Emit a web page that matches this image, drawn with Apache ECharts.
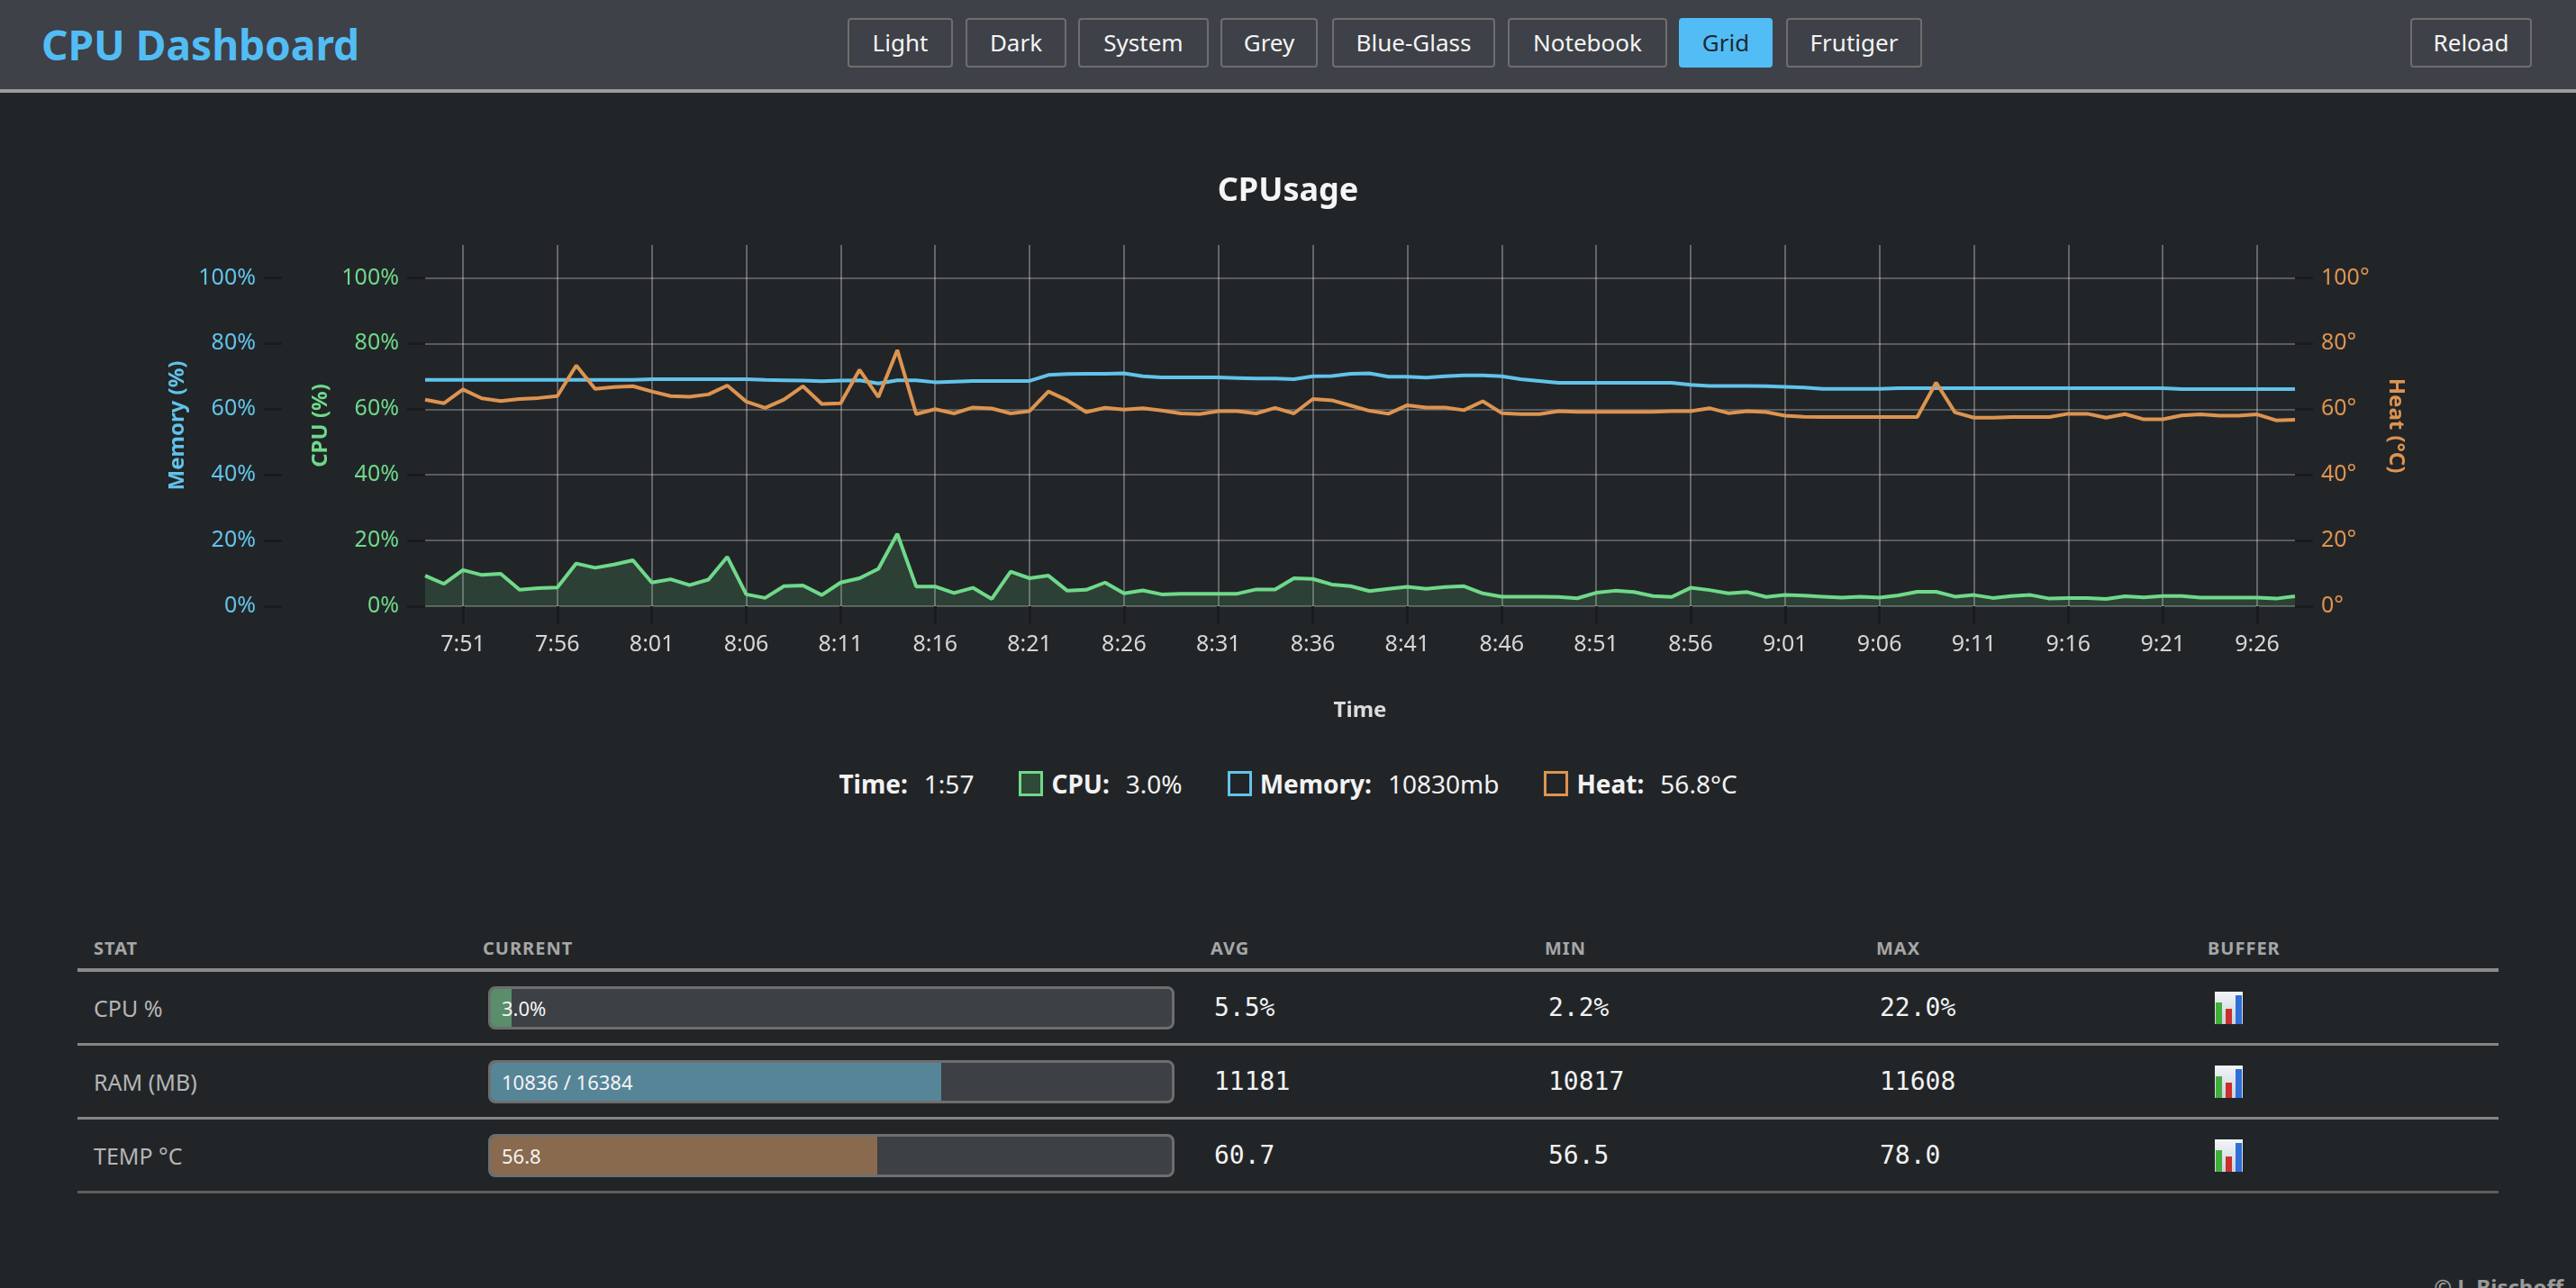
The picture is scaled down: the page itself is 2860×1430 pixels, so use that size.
<!DOCTYPE html>
<html>
<head>
<meta charset="utf-8">
<title>CPU Dashboard</title>
<script src="https://cdn.jsdelivr.net/npm/echarts@6/dist/echarts.min.js"></script>
<style>
  html, body { margin: 0; padding: 0; }
  body {
    width: 2860px; height: 1430px; overflow: hidden; position: relative;
    background: #222528; color: #f2f2f2;
    font-family: "Noto Sans", "Open Sans", sans-serif;
  }
  .header {
    position: absolute; left: 0; top: 0; width: 2860px; height: 99px;
    background: #3e4147; border-bottom: 4px solid #9c9c9c;
  }
  .header h1 {
    position: absolute; left: 46px; top: 22px; margin: 0;
    font-size: 46px; line-height: 54px; font-weight: 700; color: #52bdf5;
  }
  .btn {
    position: absolute; top: 20px; height: 55px; box-sizing: border-box;
    border: 2px solid #6e6e6e; border-radius: 4px; background: #3e4147;
    color: #f4f4f4; font-size: 26px; line-height: 51px; text-align: center;
  }
  .btn.active { background: #52bdf5; border-color: #52bdf5; color: #1d2a33; }
  #chart { position: absolute; left: 0; top: 106px; width: 2860px; height: 700px; }
  .legend {
    position: absolute; left: 0; top: 848px; width: 2860px; height: 44px;
    display: flex; justify-content: center; align-items: center; font-size: 28px;
  }
  .legend b { font-weight: 700; margin-right: 18px; }
  .legend .val { margin-right: 50px; }
  .legend .box { width: 27px; height: 28px; box-sizing: border-box; border: 3px solid; margin-right: 9px; }
  .stats { position: absolute; left: 86px; top: 1030px; width: 2688px; }
  .row { position: relative; height: 79px; border-bottom: 3px solid #858585; }
  .row.head { height: 45px; border-bottom: 4px solid #8a8a8a; }
  .row.last { border-bottom-color: #5c5c5c; }
  .cell { position: absolute; top: 0; height: 100%; display: flex; align-items: center; }
  .head .cell { font-size: 20px; font-weight: 700; color: #a6a6a6; letter-spacing: 1px; }
  .name { font-size: 25px; color: #b5b5b5; }
  .num { font-family: "DejaVu Sans Mono", monospace; font-size: 28px; color: #f2f2f2; }
  .bar {
    position: relative; width: 762px; height: 48px; box-sizing: border-box;
    border: 3px solid #6e6e6e; border-radius: 8px; background: #3d4044; overflow: hidden;
  }
  .bar .fill { position: absolute; left: 0; top: 0; bottom: 0; }
  .bar span { position: absolute; left: 12px; top: 0; line-height: 42px; font-size: 22px; color: #f4f4f4; }
  .icon {
    position: relative; width: 31px; height: 36px;
    background: linear-gradient(#f2f5f8, #c8d2dc);
  }
  .icon i { position: absolute; bottom: 0; width: 7px; }
  .foot {
    position: absolute; right: 14px; top: 1412px; font-size: 24px; font-weight: 700; color: #9a9a9a;
  }
</style>
</head>
<body>

<div class="header">
  <h1>CPU Dashboard</h1>
  <div class="btn" style="left:941px;width:117px">Light</div>
  <div class="btn" style="left:1072px;width:112px">Dark</div>
  <div class="btn" style="left:1197px;width:145px">System</div>
  <div class="btn" style="left:1355px;width:108px">Grey</div>
  <div class="btn" style="left:1479px;width:181px">Blue-Glass</div>
  <div class="btn" style="left:1674px;width:177px">Notebook</div>
  <div class="btn active" style="left:1864px;width:104px">Grid</div>
  <div class="btn" style="left:1983px;width:151px">Frutiger</div>
  <div class="btn" style="left:2676px;width:135px">Reload</div>
</div>

<div id="chart"></div>

<div class="legend" id="legend"></div>

<div class="stats" id="stats"></div>

<div class="foot">© J. Bischoff</div>

<script>
// colours
var cpuColor = '#6fd98a'
var memColor = '#62c3ea'
var heatColor = '#dd9450'

// minutes 7:49 .. 9:28, one point each
var startHour = 7
var startMin = 49
var pointCount = 100

// CPU usage (%)
var cpuData = [
  9.3, 6.8, 11.0, 9.5, 9.9, 5.0, 5.5, 5.7, 13.0, 11.7,
  12.7, 14.0, 7.2, 8.2, 6.4, 8.1, 15.0, 3.6, 2.5, 6.1,
  6.3, 3.4, 7.2, 8.5, 11.4, 22.0, 6.0, 6.0, 4.0, 5.6,
  2.2, 10.5, 8.5, 9.3, 4.7, 5.0, 7.2, 3.9, 4.8, 3.6,
  3.8, 3.8, 3.8, 3.8, 5.1, 5.1, 8.5, 8.3, 6.6, 6.1,
  4.6, 5.3, 5.9, 5.3, 5.8, 6.1, 3.9, 2.9, 2.9, 2.9,
  2.8, 2.4, 4.1, 4.7, 4.3, 3.1, 2.8, 5.6, 4.9, 3.9,
  4.3, 2.8, 3.4, 3.2, 2.9, 2.6, 2.9, 2.6, 3.3, 4.4,
  4.4, 2.9, 3.4, 2.5, 3.1, 3.4, 2.3, 2.5, 2.5, 2.2,
  3.0, 2.7, 3.1, 3.1, 2.6, 2.6, 2.6, 2.6, 2.3, 3.0
]

// memory usage (% of 16384mb)
var memData = [
  68.9, 68.9, 68.9, 68.9, 68.9, 68.9, 68.9, 68.9, 68.9, 68.9,
  68.9, 68.9, 69.1, 69.1, 69.1, 69.1, 69.1, 69.1, 68.9, 68.8,
  68.7, 68.5, 68.7, 68.8, 67.8, 68.8, 68.8, 68.2, 68.4, 68.6,
  68.6, 68.6, 68.6, 70.4, 70.7, 70.8, 70.8, 70.9, 70.0, 69.7,
  69.7, 69.7, 69.7, 69.5, 69.3, 69.3, 69.1, 70.0, 70.1, 70.8,
  70.9, 69.9, 69.9, 69.6, 70.0, 70.3, 70.3, 70.0, 69.1, 68.6,
  68.0, 68.0, 68.0, 68.0, 68.0, 68.0, 68.0, 67.4, 67.1, 67.1,
  67.1, 67.0, 66.8, 66.6, 66.2, 66.2, 66.2, 66.2, 66.4, 66.4,
  66.4, 66.4, 66.4, 66.4, 66.4, 66.4, 66.4, 66.4, 66.4, 66.4,
  66.4, 66.4, 66.4, 66.1, 66.1, 66.1, 66.1, 66.1, 66.1, 66.1
]

// temperature (°C)
var heatData = [
  62.9, 61.8, 66.0, 63.3, 62.5, 63.1, 63.4, 64.0, 73.3, 66.2,
  66.7, 67.0, 65.4, 64.0, 63.8, 64.5, 67.2, 62.3, 60.4, 62.9,
  67.0, 61.6, 61.8, 72.0, 63.7, 78.0, 58.5, 60.0, 58.7, 60.5,
  60.2, 58.7, 59.4, 65.4, 62.7, 59.1, 60.4, 59.9, 60.3, 59.6,
  58.7, 58.5, 59.4, 59.4, 58.7, 60.4, 58.7, 63.1, 62.7, 61.1,
  59.5, 58.6, 61.2, 60.5, 60.5, 59.7, 62.4, 58.8, 58.5, 58.5,
  59.4, 59.2, 59.2, 59.2, 59.2, 59.2, 59.4, 59.4, 60.3, 58.8,
  59.4, 59.1, 58.0, 57.7, 57.6, 57.6, 57.6, 57.6, 57.6, 57.6,
  68.1, 59.0, 57.4, 57.4, 57.6, 57.6, 57.6, 58.6, 58.6, 57.4,
  58.5, 56.9, 56.9, 58.1, 58.4, 58.0, 58.0, 58.4, 56.6, 56.8
]

// readout under the chart
var legendTime = '1:57'
var legendCpu = '3.0%'
var legendMem = '10830mb'
var legendHeat = '56.8°C'

// stats table
var statNames = ['CPU %', 'RAM (MB)', 'TEMP °C']
var statCurrent = ['3.0%', '10836 / 16384', '56.8']
var statPercent = [3.0, 10836 / 16384 * 100, 56.8]
var statAvg = ['5.5%', '11181', '60.7']
var statMin = ['2.2%', '10817', '56.5']
var statMax = ['22.0%', '11608', '78.0']

// build time labels
var timeLabels = []
for (var i = 0; i < pointCount; i++) {
  var t = startHour * 60 + startMin + i
  var m = t % 60
  timeLabels.push(Math.floor(t / 60) + ':' + (m < 10 ? '0' + m : m))
}

// one label / grid line every 5 minutes, starting at 7:51
function everyFive(index) {
  return (index - 2) % 5 === 0
}

var tickStyle = { show: true, length: 20, lineStyle: { color: '#191b1e', width: 3 } }

function percentAxis(name, color, offset, withSplit) {
  return {
    type: 'value',
    position: 'left',
    offset: offset,
    min: 0,
    max: 110,
    interval: 20,
    name: name,
    nameLocation: 'middle',
    nameGap: 96,
    nameRotate: 90,
    nameTextStyle: { color: color, fontSize: 24, fontWeight: 'bold', fontFamily: 'Noto Sans' },
    axisLine: { show: false },
    axisTick: tickStyle,
    axisLabel: {
      color: color, fontSize: 25, margin: 29, showMaxLabel: false,
      fontFamily: 'Noto Sans', formatter: '{value}%'
    },
    splitLine: {
      show: withSplit, showMaxLine: false,
      lineStyle: { color: 'rgba(255,255,255,0.25)', width: 2 }
    }
  }
}

var chart = echarts.init(document.getElementById('chart'))

var option = {
  backgroundColor: 'transparent',
  animation: false,
  title: {
    text: 'CPUsage',
    left: 'center',
    top: 84,
    textStyle: { color: '#f5f5f5', fontSize: 36, fontWeight: 'bold', fontFamily: 'Noto Sans' }
  },
  grid: { left: 472, right: 312, top: 166, bottom: 127 },
  xAxis: {
    type: 'category',
    boundaryGap: false,
    data: timeLabels,
    name: 'Time',
    nameLocation: 'middle',
    nameGap: 104,
    nameTextStyle: { color: '#dcdcdc', fontSize: 24, fontWeight: 'bold', fontFamily: 'Noto Sans' },
    axisLine: { show: false },
    axisTick: { show: true, interval: everyFive, length: 20, lineStyle: { color: '#191b1e', width: 3 } },
    axisLabel: { interval: everyFive, color: '#d6d6d6', fontSize: 25, margin: 30, fontFamily: 'Noto Sans' },
    splitLine: { show: true, interval: everyFive, lineStyle: { color: 'rgba(255,255,255,0.3)', width: 2 } }
  },
  yAxis: [
    percentAxis('CPU (%)', cpuColor, 0, true),
    percentAxis('Memory (%)', memColor, 159, false),
    {
      type: 'value',
      position: 'right',
      min: 0,
      max: 110,
      interval: 20,
      name: 'Heat (°C)',
      nameLocation: 'middle',
      nameGap: 100,
      nameRotate: -90,
      nameTextStyle: { color: heatColor, fontSize: 24, fontWeight: 'bold', fontFamily: 'Noto Sans' },
      axisLine: { show: false },
      axisTick: tickStyle,
      axisLabel: {
        color: heatColor, fontSize: 25, margin: 29, showMaxLabel: false,
        fontFamily: 'Noto Sans', formatter: '{value}°'
      },
      splitLine: { show: false }
    }
  ],
  series: [
    {
      name: 'CPU',
      type: 'line',
      yAxisIndex: 0,
      data: cpuData,
      showSymbol: false,
      lineStyle: { color: cpuColor, width: 4 },
      itemStyle: { color: cpuColor },
      areaStyle: { color: 'rgba(111,217,138,0.22)' }
    },
    {
      name: 'Memory',
      type: 'line',
      yAxisIndex: 1,
      data: memData,
      showSymbol: false,
      lineStyle: { color: memColor, width: 4 },
      itemStyle: { color: memColor }
    },
    {
      name: 'Heat',
      type: 'line',
      yAxisIndex: 2,
      data: heatData,
      showSymbol: false,
      lineStyle: { color: heatColor, width: 4 },
      itemStyle: { color: heatColor }
    }
  ]
}

chart.setOption(option)

// readout row
document.getElementById('legend').innerHTML =
  '<b>Time:</b><span class="val">' + legendTime + '</span>' +
  '<span class="box" style="border-color:' + cpuColor + ';background:#2f4a38"></span>' +
  '<b>CPU:</b><span class="val">' + legendCpu + '</span>' +
  '<span class="box" style="border-color:' + memColor + '"></span>' +
  '<b>Memory:</b><span class="val">' + legendMem + '</span>' +
  '<span class="box" style="border-color:' + heatColor + '"></span>' +
  '<b>Heat:</b><span class="val" style="margin-right:0">' + legendHeat + '</span>'

// stats table
var colLeft = [18, 450, 1258, 1629, 1997, 2365]
var fillColors = ['#5a8e6a', '#568598', '#8a6a4e']
var heads = ['STAT', 'CURRENT', 'AVG', 'MIN', 'MAX', 'BUFFER']

var html = '<div class="row head">'
heads.forEach(function (h, k) {
  html += '<div class="cell" style="left:' + colLeft[k] + 'px">' + h + '</div>'
})
html += '</div>'

statNames.forEach(function (n, r) {
  html += '<div class="row' + (r === statNames.length - 1 ? ' last' : '') + '">'
  html += '<div class="cell name" style="left:' + colLeft[0] + 'px">' + n + '</div>'
  html += '<div class="cell" style="left:' + (colLeft[1] + 6) + 'px"><div class="bar">' +
    '<div class="fill" style="width:' + statPercent[r] + '%;background:' + fillColors[r] + '"></div>' +
    '<span>' + statCurrent[r] + '</span></div></div>'
  html += '<div class="cell num" style="left:' + (colLeft[2] + 4) + 'px">' + statAvg[r] + '</div>'
  html += '<div class="cell num" style="left:' + (colLeft[3] + 4) + 'px">' + statMin[r] + '</div>'
  html += '<div class="cell num" style="left:' + (colLeft[4] + 4) + 'px">' + statMax[r] + '</div>'
  html += '<div class="cell" style="left:' + (colLeft[5] + 8) + 'px"><div class="icon">' +
    '<i style="left:1px;height:65%;background:#3fae3a"></i>' +
    '<i style="left:12px;height:47%;background:#c9302c"></i>' +
    '<i style="left:23px;height:88%;background:#2f6fd6"></i></div></div>'
  html += '</div>'
})
document.getElementById('stats').innerHTML = html
</script>
</body>
</html>
